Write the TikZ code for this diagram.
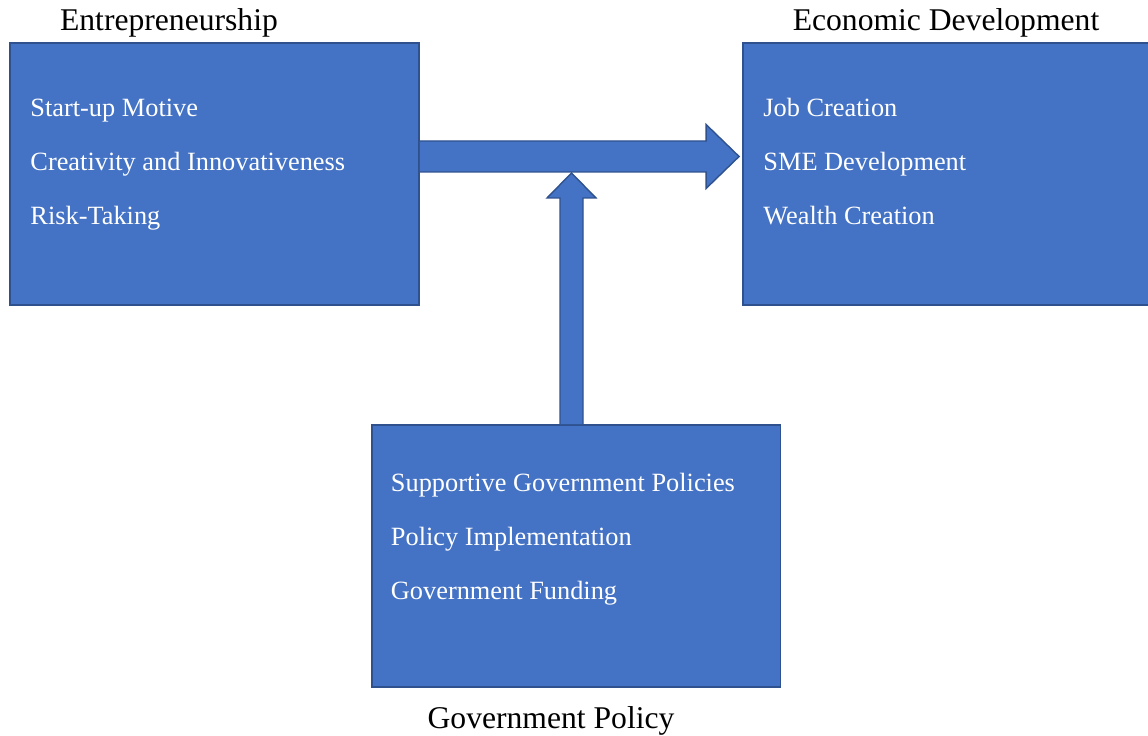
\documentclass[tikz,border=0pt]{standalone}
\usepackage{fontspec}
\setmainfont{Liberation Serif}
\usetikzlibrary{positioning}
\definecolor{boxblue}{HTML}{4472C4}
\definecolor{boxedge}{HTML}{2F528F}

\begin{document}
\begin{tikzpicture}[x=0.02cm,y=-0.02cm,
  panel/.style={draw=boxedge,fill=boxblue,line width=1.1pt,
    minimum width=8.18cm,minimum height=5.24cm,inner sep=0pt},
  item/.style={text=white,font=\fontsize{15}{18}\selectfont,anchor=base west,inner sep=0pt},
  heading/.style={font=\fontsize{18}{21}\selectfont,anchor=base,inner sep=0pt},
  blockarrow/.style={draw=boxedge,fill=boxblue,line width=0.8pt,line join=miter}]

\clip (0,0) rectangle (1148,736);

% the three boxes
\node[panel] (ent) at (214.5,174) {};
\node[panel] (eco) at (947.5,174) {};
\node[panel] (gov) at (576,556) {};

% headings
\node[heading] (entTitle) at ([shift={(-45.5,-12)}]ent.north) {Entrepreneurship};
\node[heading] (ecoTitle) at ([shift={(-1.5,-12)}]eco.north) {Economic Development};
\node[heading] (govTitle) at ([shift={(-25,41)}]gov.south) {Government Policy};

% items in the boxes
\foreach \t [count=\i] in {Start-up Motive,Creativity and Innovativeness,Risk-Taking}
  {\node[item] (ent-\i) at ([shift={(21,20+54*\i)}]ent.north west) {\t};}
\foreach \t [count=\i] in {Job Creation,SME Development,Wealth Creation}
  {\node[item] (eco-\i) at ([shift={(21,20+54*\i)}]eco.north west) {\t};}
\foreach \t [count=\i] in {Supportive Government Policies,Policy Implementation,Government Funding}
  {\node[item] (gov-\i) at ([shift={(20,13+54*\i)}]gov.north west) {\t};}

% block arrows
\coordinate (htail) at ([shift={(0,-17.5)}]ent.east);
\coordinate (hhead) at ([shift={(-3,-17.5)}]eco.west);
\coordinate (vtail) at ([shift={(-4.5,0)}]gov.north);
\coordinate (vhead) at ([shift={(0,16.5)}]vtail |- htail);

\draw[blockarrow] ([shift={(0,-15.5)}]htail) -- ([shift={(-33,-15.5)}]hhead)
  -- ([shift={(-33,-32)}]hhead) -- (hhead) -- ([shift={(-33,32)}]hhead)
  -- ([shift={(-33,15.5)}]hhead) -- ([shift={(0,15.5)}]htail);

\draw[blockarrow] ([shift={(-11.5,0)}]vtail) -- ([shift={(-11.5,25)}]vhead)
  -- ([shift={(-24.5,25)}]vhead) -- (vhead) -- ([shift={(24.5,25)}]vhead)
  -- ([shift={(11.5,25)}]vhead) -- ([shift={(11.5,0)}]vtail);

\end{tikzpicture}
\end{document}
